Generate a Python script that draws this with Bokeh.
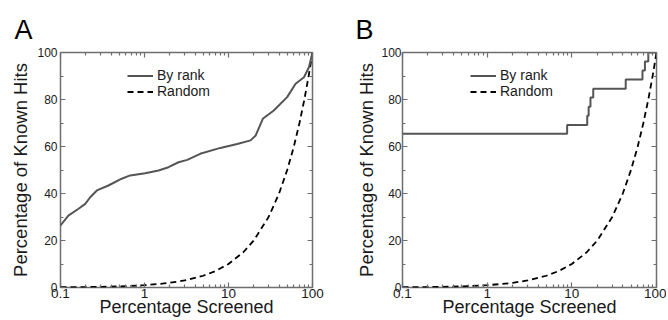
from bokeh.plotting import figure
from bokeh.layouts import row
from bokeh.models import (LogAxis, LinearAxis, FixedTicker, Legend, LegendItem,
                          Range1d, ColumnDataSource, CustomJSTickFormatter)
from bokeh.embed import file_html
from bokeh.resources import INLINE

# ---- data ----
rank_a_x = [0.1, 0.124, 0.164, 0.197, 0.226, 0.271, 0.372, 0.536, 0.675, 1.02, 1.47,
            1.93, 2.54, 3.23, 4.6, 8.0, 12.7, 18.3, 21.1, 25.6, 34.6, 49.9, 62.9,
            79.2, 90.8, 100]
rank_a_y = [26.4, 30.6, 33.5, 35.6, 38.4, 41.3, 43.4, 46.3, 47.7, 48.6, 49.8,
            51.2, 53.3, 54.3, 56.9, 59.4, 61.1, 62.6, 64.7, 71.8, 75.3, 81.0, 86.7,
            89.5, 93.7, 100]

rank_b_x = [0.1, 8.8, 15.2, 15.8, 16.6, 17.9, 43.3, 68.3, 73.0, 80.0, 100]
rank_b_y = [65.4, 69.2, 73.1, 76.9, 80.8, 84.6, 88.5, 92.3, 96.2, 100, 100]

random_x = [0.1, 0.2, 0.3, 0.5, 0.7, 1, 1.5, 2, 3, 5, 7, 10, 15, 20, 30, 40, 50,
            60, 70, 80, 90, 100]
random_y = [0.1, 0.2, 0.3, 0.5, 0.7, 1, 1.5, 2, 3, 5, 7, 10, 15, 20, 30, 40, 50,
            60, 70, 80, 90, 100]

x_major = [0.1, 1, 10, 100]
x_minor = [m * d for d in (0.1, 1, 10) for m in range(2, 10)]
y_major = [0, 20, 40, 60, 80, 100]
y_minor = [10, 30, 50, 70, 90]

FONT = "Liberation Sans"
FRAME = "#6e6e6e"
TXT = "#1a1a1a"


def style_axis(ax, labels=True):
    ax.axis_line_color = None
    ax.major_tick_in = 5
    ax.major_tick_out = 0
    ax.minor_tick_in = 3
    ax.minor_tick_out = 0
    ax.major_tick_line_color = FRAME
    ax.minor_tick_line_color = FRAME
    ax.major_tick_line_width = 1.2
    ax.minor_tick_line_width = 1.2
    ax.major_label_text_font = FONT
    ax.major_label_text_font_size = "12px"
    ax.major_label_text_color = TXT
    ax.axis_label_text_font = FONT
    ax.axis_label_text_font_style = "normal"
    ax.axis_label_text_color = TXT
    if not labels:
        ax.major_label_text_font_size = "0px"
        ax.major_label_text_alpha = 0


def make_panel(letter, rx, ry, step, left_border, right_border, width,
               title_offset, ylab_standoff, legend_loc):
    p = figure(width=width, height=320, x_axis_type="log",
               x_range=Range1d(0.1, 100), y_range=Range1d(0, 100),
               output_backend="svg", toolbar_location=None,
               min_border_left=left_border, min_border_right=right_border,
               min_border_top=52, min_border_bottom=33)
    p.grid.visible = False
    p.background_fill_color = "white"
    p.border_fill_color = "white"
    p.outline_line_color = FRAME
    p.outline_line_width = 1.5

    p.title.text = letter
    p.title.text_font = FONT
    p.title.text_font_size = "27px"
    p.title.text_font_style = "normal"
    p.title.text_color = "black"
    p.title.align = "left"
    p.title.offset = title_offset
    p.title.standoff = 15

    xa = p.xaxis[0]
    xa.ticker = FixedTicker(ticks=x_major, minor_ticks=x_minor)
    xa.formatter = CustomJSTickFormatter(code="return String(tick);")
    xa.axis_label = "Percentage Screened"
    style_axis(xa)
    xa.major_label_text_font_size = "13.5px"
    xa.axis_label_text_font_size = "18px"
    xa.major_label_standoff = 1
    xa.axis_label_standoff = -4

    ya = p.yaxis[0]
    ya.ticker = FixedTicker(ticks=y_major, minor_ticks=y_minor)
    ya.axis_label = "Percentage of Known Hits"
    style_axis(ya)
    ya.axis_label_text_font_size = "18.5px"
    ya.major_label_standoff = ylab_standoff
    ya.axis_label_standoff = ylab_standoff

    top = LogAxis(ticker=FixedTicker(ticks=x_major, minor_ticks=x_minor))
    style_axis(top, labels=False)
    p.add_layout(top, "above")
    right = LinearAxis(ticker=FixedTicker(ticks=y_major, minor_ticks=y_minor))
    style_axis(right, labels=False)
    p.add_layout(right, "right")

    src_r = ColumnDataSource(dict(x=random_x, y=random_y))
    r_rand = p.line("x", "y", source=src_r, line_color="black", line_width=1.8,
                    line_dash="6 4")
    src_k = ColumnDataSource(dict(x=rx, y=ry))
    if step:
        r_rank = p.step("x", "y", source=src_k, mode="after", line_color="#555555",
                        line_width=2)
    else:
        r_rank = p.line("x", "y", source=src_k, line_color="#555555", line_width=2)

    legend = Legend(items=[LegendItem(label="By rank", renderers=[r_rank]),
                           LegendItem(label="Random", renderers=[r_rand])],
                    location=legend_loc)
    legend.border_line_color = None
    legend.background_fill_alpha = 0
    legend.padding = 0
    legend.margin = 0
    legend.spacing = 0
    legend.glyph_width = 26
    legend.glyph_height = 15
    legend.label_height = 15
    legend.label_standoff = 4
    legend.label_text_font = FONT
    legend.label_text_font_size = "14px"
    legend.label_text_color = TXT
    p.add_layout(legend)
    return p


pa = make_panel("A", rank_a_x, rank_a_y, False, 60, 22, 334, -46, 3, (67, 188))
pb = make_panel("B", rank_b_x, rank_b_y, True, 68, 10, 332, -47, 1, (68, 188))

layout = row(pa, pb, spacing=0)
open("out.html", "w").write(file_html(layout, INLINE))
